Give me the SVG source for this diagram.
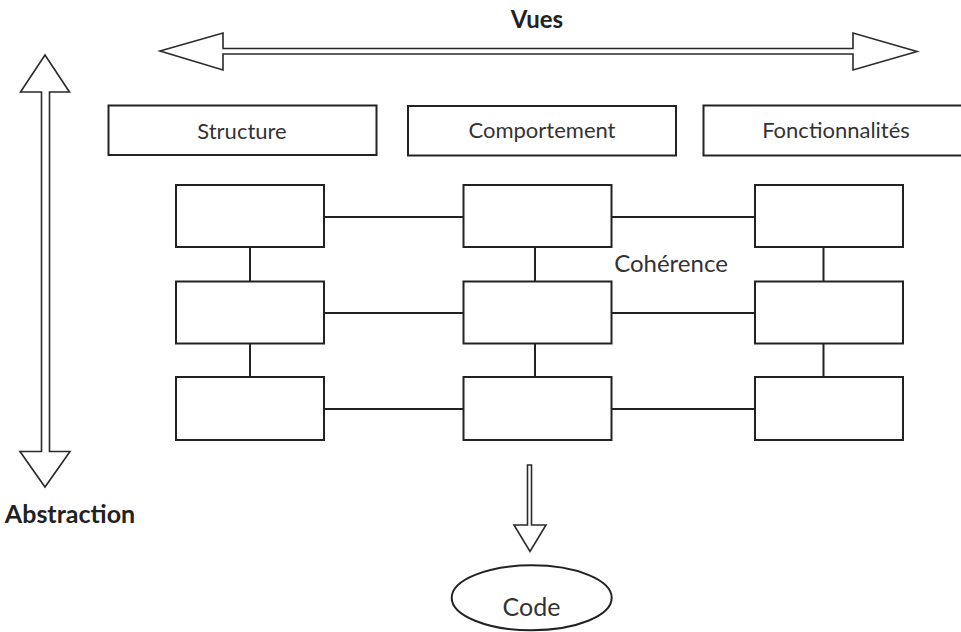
<svg xmlns="http://www.w3.org/2000/svg" width="961" height="632" viewBox="0 0 961 632">
  <style>
    .box { fill: #ffffff; stroke: #222222; stroke-width: 2; }
    .arrow { fill: #ffffff; stroke: #2a2a2a; stroke-width: 1.6; stroke-linejoin: miter; }
    .link { stroke: #222222; stroke-width: 2; fill: none; }
    .label { font-family: Lato, "Open Sans", "Liberation Sans", sans-serif; fill: #333333; text-anchor: middle; }
    .title { font-weight: bold; fill: #222222; }
  </style>
  <rect width="961" height="632" fill="#ffffff"/>

  <!-- Axis arrows -->
  <g id="views-axis">
    <polygon class="arrow" points="160,51 223,33 223,48.5 853,48.5 853,33 917,51.5 853,70 853,54 223,54 223,70"/>
    <text class="label title" x="537" y="28" font-size="24">Vues</text>
  </g>
  <g id="abstraction-axis">
    <polygon class="arrow" points="45,55 20.5,92 41.5,92 41.5,451.5 20,451.5 45,487 70,451.5 49.5,451.5 49.5,92 69.5,92"/>
    <text class="label title" x="70" y="523" font-size="25">Abstraction</text>
  </g>

  <!-- View headers -->
  <g id="view-structure">
    <rect class="box" x="108.5" y="105.5" width="268" height="49.5"/>
    <text class="label" x="242" y="139" font-size="22">Structure</text>
  </g>
  <g id="view-comportement">
    <rect class="box" x="408" y="106" width="268" height="49.5"/>
    <text class="label" x="542" y="138" font-size="22">Comportement</text>
  </g>
  <g id="view-fonctionnalites">
    <rect class="box" x="703.5" y="105.5" width="268" height="50"/>
    <text class="label" x="836" y="138" font-size="22">Fonctionnalités</text>
  </g>

  <!-- Connectors between model boxes -->
  <g id="connectors">
    <line class="link" x1="324" y1="217" x2="463.5" y2="217"/>
    <line class="link" x1="611.5" y1="217" x2="755" y2="217"/>
    <line class="link" x1="324" y1="313" x2="463.5" y2="313"/>
    <line class="link" x1="611.5" y1="313" x2="755" y2="313"/>
    <line class="link" x1="324" y1="409" x2="463.5" y2="409"/>
    <line class="link" x1="611.5" y1="409" x2="755" y2="409"/>
    <line class="link" x1="250" y1="247" x2="250" y2="281.5"/>
    <line class="link" x1="250" y1="343.5" x2="250" y2="377"/>
    <line class="link" x1="535" y1="247" x2="535" y2="281.5"/>
    <line class="link" x1="535" y1="343.5" x2="535" y2="377"/>
    <line class="link" x1="823.5" y1="247" x2="823.5" y2="281.5"/>
    <line class="link" x1="823.5" y1="343.5" x2="823.5" y2="377"/>
    <polygon class="arrow" points="527.5,465 531.5,465 531.5,525 546,525 530,551.5 514,525 527.5,525"/>
  </g>

  <!-- Model grid -->
  <g id="node-r1c1"><rect class="box" x="176" y="185" width="148" height="62"/></g>
  <g id="node-r1c2"><rect class="box" x="463.5" y="185" width="148" height="62"/></g>
  <g id="node-r1c3"><rect class="box" x="755" y="185" width="148" height="62"/></g>
  <g id="node-r2c1"><rect class="box" x="176" y="281.5" width="148" height="62"/></g>
  <g id="node-r2c2"><rect class="box" x="463.5" y="281.5" width="148" height="62"/></g>
  <g id="node-r2c3"><rect class="box" x="755" y="281.5" width="148" height="62"/></g>
  <g id="node-r3c1"><rect class="box" x="176" y="377" width="148" height="63"/></g>
  <g id="node-r3c2"><rect class="box" x="463.5" y="377" width="148" height="63"/></g>
  <g id="node-r3c3"><rect class="box" x="755" y="377" width="148" height="63"/></g>

  <g id="coherence-label">
    <text class="label" x="671" y="272" font-size="24">Cohérence</text>
  </g>

  <g id="code">
    <ellipse class="box" cx="531.7" cy="597.8" rx="80" ry="32.5"/>
    <text class="label" x="531.5" y="616" font-size="25">Code</text>
  </g>
</svg>
